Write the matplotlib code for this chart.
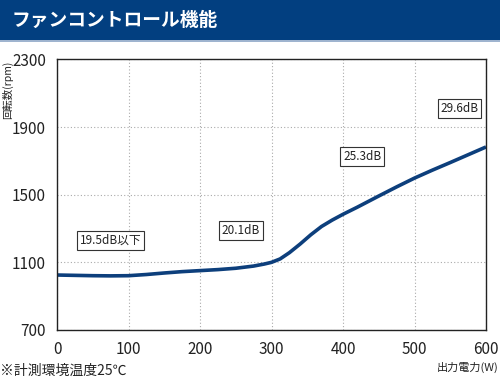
import matplotlib.pyplot as plt
import numpy as np
from matplotlib.patches import Rectangle, Polygon
from matplotlib.colors import LinearSegmentedColormap

plt.rcParams['font.family'] = ['Noto Sans CJK JP', 'DejaVu Sans']

# データ
power_w = [0, 25, 50, 75, 100, 125, 150, 175, 200, 225, 250, 275, 290, 300,
           312, 325, 340, 355, 370, 385, 400, 420, 450, 475, 500, 525, 550, 575, 600]
fan_rpm = [1025, 1023, 1021, 1020, 1021, 1028, 1037, 1045, 1051, 1057, 1065, 1078, 1090, 1100,
           1120, 1157, 1208, 1263, 1312, 1350, 1384, 1426, 1492, 1546, 1598, 1645, 1690, 1736, 1782]

noise_labels = ['19.5dB以下', '20.1dB', '25.3dB', '29.6dB']
noise_x = [75, 257, 427, 563]
noise_y = [1230, 1290, 1724, 2012]

x_ticks = [0, 100, 200, 300, 400, 500, 600]
y_ticks = [700, 1100, 1500, 1900, 2300]

line_color = '#0d3f7c'
bar_color = '#023f80'

fig = plt.figure(figsize=(5, 3.78), dpi=100)

# タイトルバー
fig.patches.append(Rectangle((0, 0.894), 1, 0.106, transform=fig.transFigure,
                             facecolor=bar_color, edgecolor='none'))
fig.patches.append(Rectangle((0, 0.888), 1, 0.007, transform=fig.transFigure,
                             facecolor='#9fb4cf', edgecolor='none'))
gax = fig.add_axes([0.905, 0.894, 0.095, 0.106])
grad = np.linspace(0, 1, 64)[None, :]
img = gax.imshow(grad, cmap=LinearSegmentedColormap.from_list('g', ['#0a2350', '#7f9fcf']),
                 aspect='auto', extent=[0, 1, 0, 1])
tri = Polygon([(0.1, 0), (1, 0), (1, 1)], closed=True, transform=gax.transData)
img.set_clip_path(tri)
gax.set_xlim(0, 1)
gax.set_ylim(0, 1)
gax.axis('off')
fig.text(0.024, 0.947, 'ファンコントロール機能', color='white', fontsize=13.5,
         fontweight='bold', va='center', ha='left')

ax = fig.add_axes([0.114, 0.127, 0.858, 0.716])
ax.plot(power_w, fan_rpm, color=line_color, linewidth=2.6, solid_capstyle='butt')

for label, lx, ly in zip(noise_labels, noise_x, noise_y):
    ax.text(lx, ly, label, fontsize=8.5, ha='center', va='center', color='#222222',
            bbox=dict(boxstyle='square,pad=0.25', facecolor='white',
                      edgecolor='#333333', linewidth=0.8))

ax.set_xlim(0, 600)
ax.set_ylim(700, 2300)
ax.set_xticks(x_ticks)
ax.set_yticks(y_ticks)
ax.tick_params(length=0, labelsize=11, pad=8, colors='#222222')
ax.grid(True, linestyle=(0, (1, 2)), color='#aaaaaa', linewidth=0.8)
for s in ax.spines.values():
    s.set_color('#222222')
    s.set_linewidth(1.0)

fig.text(0.016, 0.84, '回転数(rpm)', rotation=90, fontsize=7.5, va='top', ha='center',
         color='#222222')
fig.text(0.997, 0.028, '出力電力(W)', fontsize=8, ha='right', va='center',
         color='#222222')
fig.text(0.0, 0.018, '※計測環境温度25℃', fontsize=10, ha='left', va='center',
         color='#222222')

plt.savefig('out.png', dpi=100)
